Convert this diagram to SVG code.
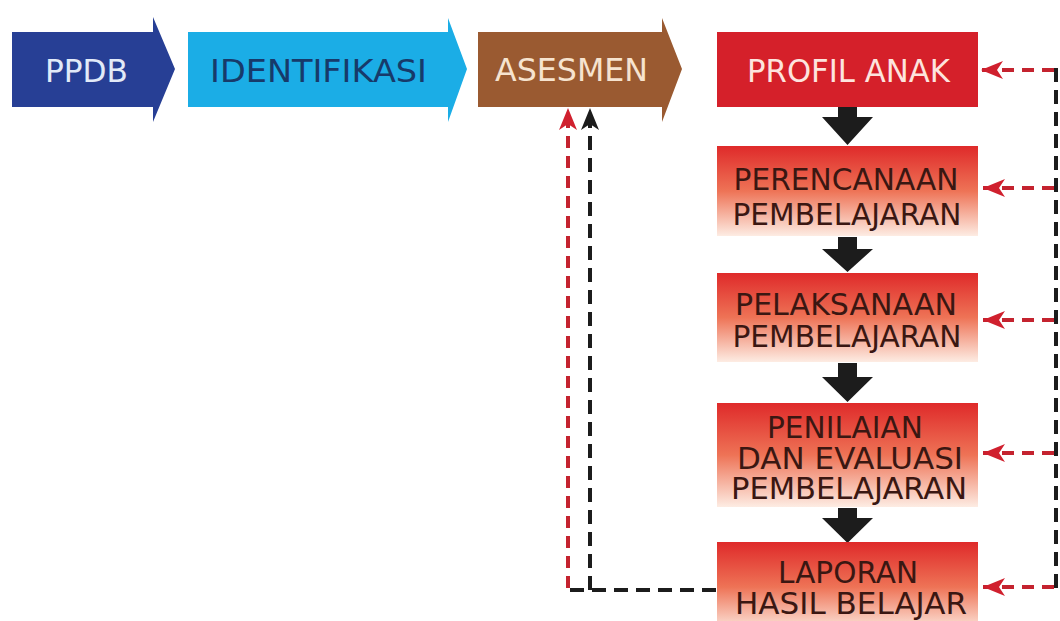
<svg xmlns="http://www.w3.org/2000/svg" width="1060" height="621" viewBox="0 0 1060 621">
  <style>
    text { font-family: "DejaVu Sans", "Liberation Sans", sans-serif; font-size: 31px; text-anchor: middle; }
    .big { font-size: 32px; }
    .dark { fill: #3a1712; }
    .flow { fill: #1c1c1c; }
    .red-dash { fill: none; stroke: #c4232f; stroke-width: 4; stroke-dasharray: 12 8; }
    .blk-dash { fill: none; stroke: #1c1c1c; stroke-width: 4; stroke-dasharray: 14 8; }
    .step { fill: url(#grad); }
  </style>
  <defs>
    <linearGradient id="grad" x1="0" y1="0" x2="0" y2="1">
      <stop offset="0" stop-color="#df2a2a"/>
      <stop offset="0.5" stop-color="#ee7356"/>
      <stop offset="1" stop-color="#fdece3"/>
    </linearGradient>
    <marker id="ahRed" viewBox="0 0 22 18" refX="22" refY="9" markerWidth="22" markerHeight="18" markerUnits="userSpaceOnUse" orient="auto">
      <path d="M0,0 L22,9 L0,18 L6,9 Z" fill="#d0202e"/>
    </marker>
    <marker id="ahBlk" viewBox="0 0 22 18" refX="22" refY="9" markerWidth="22" markerHeight="18" markerUnits="userSpaceOnUse" orient="auto">
      <path d="M0,0 L22,9 L0,18 L6,9 Z" fill="#1c1c1c"/>
    </marker>
  </defs>
  <rect width="1060" height="621" fill="#ffffff"/>

  <g id="connectors">
    <path class="blk-dash" d="M1056,68 L1056,589"/>
    <path class="red-dash" d="M1054,70 L981,70" marker-end="url(#ahRed)"/>
    <path class="red-dash" d="M1054,188 L983,188" marker-end="url(#ahRed)"/>
    <path class="red-dash" d="M1054,320 L983,320" marker-end="url(#ahRed)"/>
    <path class="red-dash" d="M1054,453 L983,453" marker-end="url(#ahRed)"/>
    <path class="red-dash" d="M1054,587 L983,587" marker-end="url(#ahRed)"/>
    <path class="blk-dash" d="M716,590 L568,590"/>
    <path class="red-dash" d="M568,588 L568,108" marker-end="url(#ahRed)"/>
    <path class="blk-dash" d="M590,590 L590,108" marker-end="url(#ahBlk)"/>
    <polygon class="flow" points="838,107 857,107 857,117 873,117 847.5,145 822,117 838,117"/>
    <polygon class="flow" points="838,237 857,237 857,249 873,249 847.5,272 822,249 838,249"/>
    <polygon class="flow" points="838,363 857,363 857,377 873,377 847.5,402 822,377 838,377"/>
    <polygon class="flow" points="838,508 857,508 857,518 873,518 847.5,543 822,518 838,518"/>
  </g>

  <g id="ppdb">
    <polygon points="12,32 153,32 153,17 175,69 153,122 153,107 12,107" fill="#273f95"/>
    <text class="big" x="86.5" y="82" fill="#e2eaf8" textLength="83" lengthAdjust="spacingAndGlyphs">PPDB</text>
  </g>
  <g id="identifikasi">
    <polygon points="188,32 448,32 448,18 467,69 448,122 448,107 188,107" fill="#1bade6"/>
    <text class="big" x="318.5" y="82" fill="#173a6a" textLength="217" lengthAdjust="spacingAndGlyphs">IDENTIFIKASI</text>
  </g>
  <g id="asesmen">
    <polygon points="478,32 662,32 662,18 682,69 662,122 662,107 478,107" fill="#9a5a31"/>
    <text class="big" x="571.5" y="81" fill="#f6e3cf" textLength="153" lengthAdjust="spacingAndGlyphs">ASESMEN</text>
  </g>
  <g id="profil-anak">
    <rect x="717" y="32" width="261" height="75" fill="#d5202a"/>
    <text class="big" x="848.5" y="82" fill="#fde4de" textLength="203" lengthAdjust="spacingAndGlyphs">PROFIL ANAK</text>
  </g>
  <g id="perencanaan">
    <rect class="step" x="717" y="146" width="261" height="90"/>
    <text class="dark" x="846" y="190" textLength="225" lengthAdjust="spacingAndGlyphs">PERENCANAAN</text>
    <text class="dark" x="847" y="225" textLength="229" lengthAdjust="spacingAndGlyphs">PEMBELAJARAN</text>
  </g>
  <g id="pelaksanaan">
    <rect class="step" x="717" y="273" width="261" height="89"/>
    <text class="dark" x="846" y="315" textLength="222" lengthAdjust="spacingAndGlyphs">PELAKSANAAN</text>
    <text class="dark" x="847" y="347" textLength="229" lengthAdjust="spacingAndGlyphs">PEMBELAJARAN</text>
  </g>
  <g id="penilaian">
    <rect class="step" x="717" y="403" width="261" height="104"/>
    <text class="dark" x="845" y="438" textLength="156" lengthAdjust="spacingAndGlyphs">PENILAIAN</text>
    <text class="dark" x="850" y="469" textLength="226" lengthAdjust="spacingAndGlyphs">DAN EVALUASI</text>
    <text class="dark" x="849" y="499" textLength="236" lengthAdjust="spacingAndGlyphs">PEMBELAJARAN</text>
  </g>
  <g id="laporan">
    <rect class="step" x="717" y="542" width="261" height="90"/>
    <text class="dark" x="848" y="583" textLength="140" lengthAdjust="spacingAndGlyphs">LAPORAN</text>
    <text class="dark" x="851" y="614" textLength="232" lengthAdjust="spacingAndGlyphs">HASIL BELAJAR</text>
  </g>
</svg>
